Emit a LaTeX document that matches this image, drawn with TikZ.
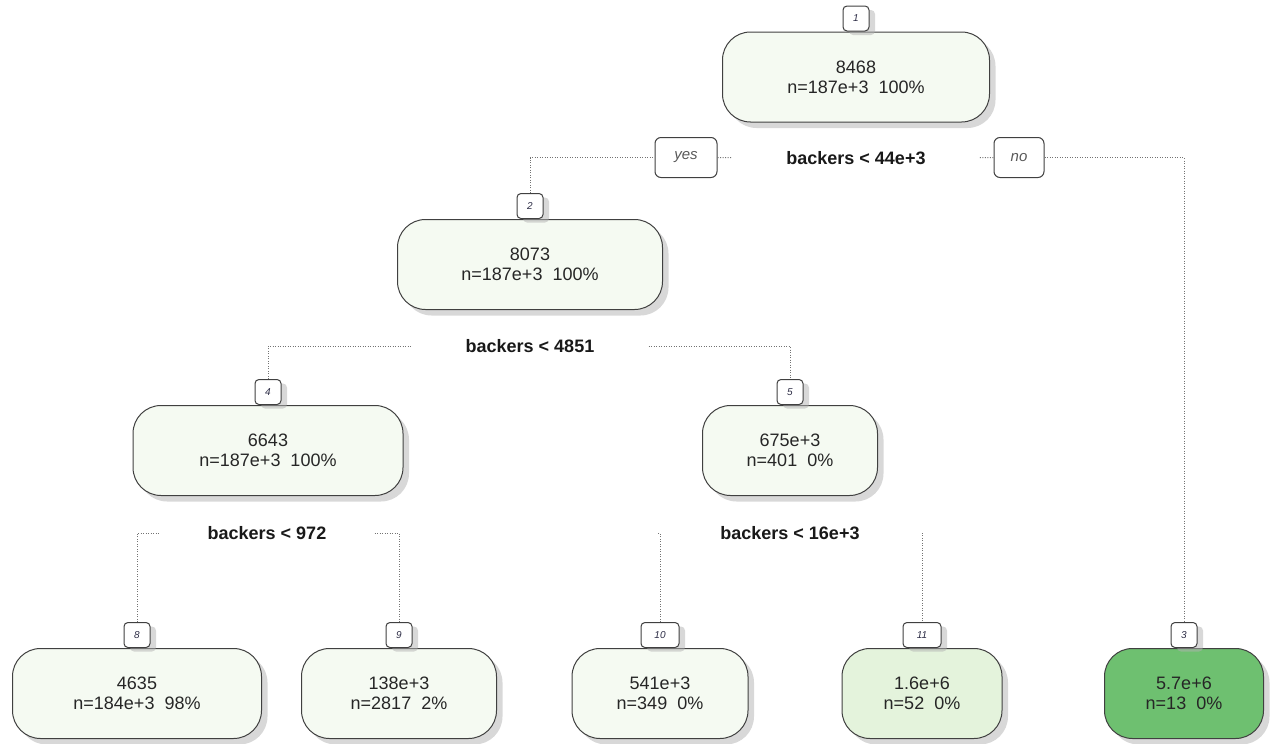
\documentclass[tikz,border=0pt]{standalone}
\usepackage{fontspec}
\setmainfont{Liberation Sans}
\usetikzlibrary{positioning}
\usetikzlibrary{shadows}
\definecolor{leafpale}{RGB}{245,250,242}
\definecolor{leafmid}{RGB}{228,243,220}
\definecolor{leafdeep}{RGB}{110,192,112}
\definecolor{tagtext}{RGB}{45,45,70}
\tikzset{
  box/.style={draw=black!75, line width=0.5pt, rounded corners=14pt, fill=leafpale,
    align=center, minimum height=45pt, inner sep=0pt, text=black!85,
    font=\fontsize{9}{10}\selectfont,
    drop shadow={shadow xshift=3pt, shadow yshift=-3pt, fill=black!30}},
  tag/.style={draw=black!75, line width=0.5pt, rounded corners=2pt, fill=white,
    minimum width=13pt, minimum height=12.5pt, inner sep=0pt, text=tagtext,
    font=\fontsize{5}{6}\selectfont\itshape,
    drop shadow={shadow xshift=3pt, shadow yshift=-2pt, fill=black!30}},
  split/.style={fill=white, inner ysep=1pt, inner xsep=27pt, text=black!90,
    font=\fontsize{9}{10}\selectfont\bfseries},
  answer/.style={draw=black!75, line width=0.5pt, rounded corners=3pt, fill=white,
    minimum width=31pt, minimum height=20pt, inner sep=0pt, text=black!65,
    font=\fontsize{7.5}{8}\selectfont\itshape},
  conn/.style={draw=black!55, line width=0.5pt, dash pattern=on 0.5pt off 0.75pt}
}
\begin{document}
\begin{tikzpicture}[x=0.5pt,y=-0.5pt]
\useasboundingbox (0,0) rectangle (1282,744);

% node boxes
\node[box, minimum width=133.5pt] (1) at (856,77) {8468\\n=187e+3\ \ 100\%};
\node[box, minimum width=132.5pt] (2) at (530,264.5) {8073\\n=187e+3\ \ 100\%};
\node[box, minimum width=135pt] (4) at (268,450.5) {6643\\n=187e+3\ \ 100\%};
\node[box, minimum width=87.5pt] (5) at (790,450.5) {675e+3\\n=401\ \ 0\%};
\node[box, minimum width=124.5pt] (8) at (137,693.5) {4635\\n=184e+3\ \ 98\%};
\node[box, minimum width=97.5pt] (9) at (399,693.5) {138e+3\\n=2817\ \ 2\%};
\node[box, minimum width=88pt] (10) at (660,693.5) {541e+3\\n=349\ \ 0\%};
\node[box, minimum width=80pt, fill=leafmid] (11) at (922,693.5) {1.6e+6\\n=52\ \ 0\%};
\node[box, minimum width=79.5pt, fill=leafdeep] (3) at (1184,693.5) {5.7e+6\\n=13\ \ 0\%};

% node numbers
\node[tag, above=0pt of 1] (t1) {1};
\node[tag, above=0pt of 2] (t2) {2};
\node[tag, above=0pt of 4] (t4) {4};
\node[tag, above=0pt of 5] (t5) {5};
\node[tag, above=0pt of 8] (t8) {8};
\node[tag, above=0pt of 9] (t9) {9};
\node[tag, minimum width=19pt, above=0pt of 10] (t10) {10};
\node[tag, minimum width=19pt, above=0pt of 11] (t11) {11};
\node[tag, above=0pt of 3] (t3) {3};

% split labels
\node[split] (s1) at (856,158) {backers < 44e+3};
\node[split] (s2) at (530,346) {backers < 4851};
\node[split, inner xsep=24pt] (s4) at (267,533) {backers < 972};
\node[split, inner xsep=31pt] (s5) at (790,533) {backers < 16e+3};
\node[answer] (yes) at (686,157.5) {yes};
\node[answer, minimum width=25pt] (no) at (1019,157.5) {no};

% dotted connectors
\draw[conn] (t2.north) |- (yes.west);
\draw[conn] (yes.east) -- (s1);
\draw[conn] (s1) -- (no.west);
\draw[conn] (no.east) -| (t3.north);
\draw[conn] (t4.north) |- (s2);
\draw[conn] (s2) -| (t5.north);
\draw[conn] (t8.north) |- (s4);
\draw[conn] (s4) -| (t9.north);
\draw[conn] (t10.north) |- (s5);
\draw[conn] (s5) -| (t11.north);
\end{tikzpicture}
\end{document}
